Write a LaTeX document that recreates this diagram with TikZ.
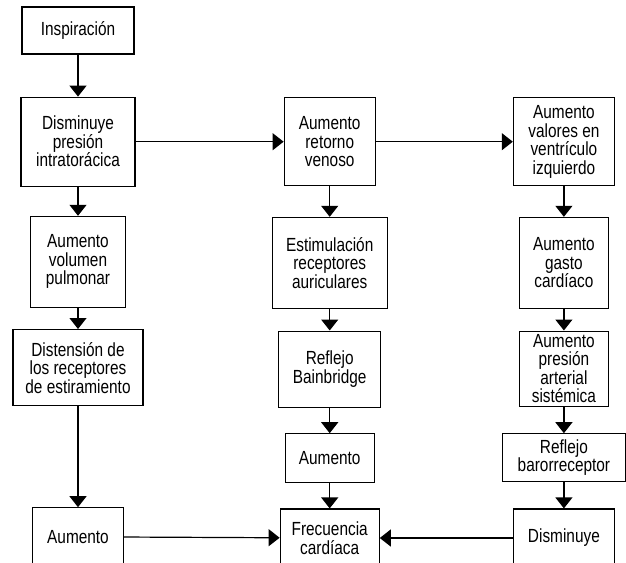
\documentclass[tikz,border=0pt]{standalone}
\usepackage{fontspec}
\setmainfont{Liberation Sans}[FakeStretch=0.81]
\usetikzlibrary{positioning}
\usetikzlibrary{arrows.meta}

\begin{document}
\begin{tikzpicture}[
    box/.style={draw, rectangle, line width=1.2pt, align=center, inner sep=0pt,
        font=\fontsize{19pt}{18.5pt}\selectfont},
    >={Triangle[width=17pt,length=11pt]},
    every path/.style={line width=1.2pt}
  ]
    \useasboundingbox (0,0) rectangle (626pt,-562pt);

    % first column
    \node[box, minimum width=112pt, minimum height=47pt] (insp) at (78pt,-30.5pt) {Inspiración};
    \node[box, minimum width=114pt, minimum height=89pt, below=42pt of insp] (dism) {Disminuye\\presión\\intratorácica};
    \draw[->] (insp) -- (dism);
    \node[box, minimum width=95pt, minimum height=91pt, below=29pt of dism] (vol) {Aumento\\volumen\\pulmonar};
    \draw[->] (dism) -- (vol);
    \node[box, minimum width=130pt, minimum height=76pt, below=21pt of vol] (dist) {Distensión de\\los receptores\\de estiramiento};
    \draw[->] (vol) -- (dist);
    \node[box, minimum width=91pt, minimum height=58pt, below=101pt of dist] (aumA) {Aumento};
    \draw[->] (dist) -- (aumA);

    % second column
    \node[box, minimum width=91pt, minimum height=88pt, right=148pt of dism] (ret) {Aumento\\retorno\\venoso};
    \draw[->] (dism) -- (ret);
    \node[box, minimum width=115pt, minimum height=91pt, below=30.5pt of ret] (est) {Estimulación\\receptores\\auriculares};
    \draw[->] (ret) -- (est);
    \node[box, minimum width=102pt, minimum height=76pt, below=21.5pt of est] (bain) {Reflejo\\Bainbridge};
    \draw[->] (est) -- (bain);
    \node[box, minimum width=89pt, minimum height=49pt, below=25.5pt of bain] (aumB) {Aumento};
    \draw[->] (bain) -- (aumB);
    \node[box, minimum width=99pt, minimum height=58pt, below=25pt of aumB] (frec) {Frecuencia\\cardíaca};
    \draw[->] (aumB) -- (frec);

    % third column
    \node[box, minimum width=101pt, minimum height=88pt, right=137pt of ret] (val) {Aumento\\valores en\\ventrículo\\izquierdo};
    \draw[->] (ret) -- (val);
    \node[box, minimum width=89pt, minimum height=91pt, below=30.5pt of val] (gasto) {Aumento\\gasto\\cardíaco};
    \draw[->] (val) -- (gasto);
    \node[box, minimum width=89pt, minimum height=75pt, below=21.5pt of gasto] (pres) {Aumento\\presión\\arterial\\sistémica};
    \draw[->] (gasto) -- (pres);
    \node[box, minimum width=123pt, minimum height=48pt, below=26.5pt of pres] (baro) {Reflejo\\barorreceptor};
    \draw[->] (pres) -- (baro);
    \node[box, minimum width=101pt, minimum height=58pt, below=26pt of baro] (dismB) {Disminuye};
    \draw[->] (baro) -- (dismB);

    % into the heart rate
    \draw[->] (aumA) -- (frec);
    \draw[->] (dismB) -- (frec);

\end{tikzpicture}
\end{document}
